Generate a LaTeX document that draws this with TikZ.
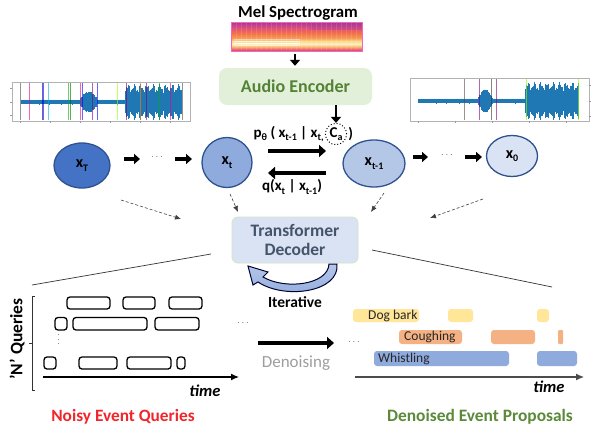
\documentclass[tikz,border=0pt]{standalone}
\usepackage{fontspec}
\setmainfont{Carlito}
\usetikzlibrary{arrows.meta,shapes.geometric}
\definecolor{ellc}{HTML}{2F528F}
\definecolor{cT}{HTML}{4472C4}
\definecolor{ct}{HTML}{8FAADC}
\definecolor{ctm}{HTML}{B4C7E7}
\definecolor{czero}{HTML}{DAE3F3}
\definecolor{encfill}{HTML}{E2F0D9}
\definecolor{enctext}{HTML}{548235}
\definecolor{decfill}{HTML}{DAE3F3}
\definecolor{decdraw}{HTML}{D3E4C6}
\definecolor{dectext}{HTML}{44546A}
\definecolor{wave}{HTML}{1F77B4}
\definecolor{yel}{HTML}{FFE699}
\definecolor{ora}{HTML}{F4B183}
\definecolor{blu}{HTML}{8FAADC}
\definecolor{noisyred}{HTML}{F0262B}
\definecolor{dengreen}{HTML}{5B8A3A}
\definecolor{sA}{HTML}{C83F8C}
\definecolor{sB}{HTML}{EE6A6A}
\definecolor{sC}{HTML}{F8B070}
\definecolor{sD}{HTML}{FDF0C0}
\definecolor{sE}{HTML}{FBD98C}
\definecolor{sF}{HTML}{F79A55}
\definecolor{sG}{HTML}{F2704A}
\definecolor{sH}{HTML}{E0507A}
\definecolor{sI}{HTML}{B8408F}
\definecolor{sJ}{HTML}{A0379A}
\pgfdeclareverticalshading{specshade}{100bp}{color(0bp)=(sA); color(25bp)=(sA); color(28.4bp)=(sB); color(31.9bp)=(sC); color(37bp)=(sD); color(42.2bp)=(sE); color(47.4bp)=(sF); color(56bp)=(sG); color(64.7bp)=(sH); color(71.5bp)=(sI); color(75bp)=(sJ); color(100bp)=(sJ)}
\newcommand{\sbs}[1]{\raisebox{-0.45ex}{\fontsize{10}{10}\selectfont #1}}
\tikzset{
  ell/.style={ellipse, draw=ellc, line width=1.3pt, inner sep=0pt, font=\bfseries\fontsize{16}{16}\selectfont},
  thickarr/.style={line width=3.4pt, -{Triangle[length=6pt,width=10pt]}},
  bigarr/.style={line width=4.6pt, -{Triangle[length=7pt,width=12pt]}},
  dasharr/.style={densely dashed, line width=0.6pt, draw=black!75, -{Latex[length=6pt,width=5pt]}},
  qbox/.style={draw, line width=1.3pt, rounded corners=3pt, fill=white},
  bar/.style={rounded corners=3pt},
  barlbl/.style={anchor=west, inner sep=0pt, font=\fontsize{13.5}{14}\selectfont, text=black!85},
  frame/.style={draw=black!30, line width=0.5pt},
  vl/.style={line width=0.6pt, opacity=0.6},
  dots/.style={font=\fontsize{10}{10}\selectfont, text=black!60, inner sep=0pt},
  plab/.style={font=\bfseries\fontsize{15}{15}\selectfont}
}
\begin{document}
\begin{tikzpicture}[x=1pt,y=-1pt]
\useasboundingbox (0,0) rectangle (603,442);
\fill[white] (0,0) rectangle (603,442);

% Mel spectrogram
\node[font=\bfseries\fontsize{16.8}{18}\selectfont] (meltitle) at (298,13) {Mel Spectrogram};
\shade[shading=specshade] (231,22) rectangle (362,51);
\fill[sJ, opacity=0.3] (310,22) rectangle (362,30);
\foreach \y/\o in {41/0.7,43/0.8,45/0.5,39/0.4}{\draw[white, opacity=\o, line width=0.7pt] (234,\y) -- (300,\y);}
\foreach \x in {236,241,...,356}{\draw[white, opacity=0.12, line width=0.6pt] (\x,23) -- (\x,50);}
\draw[magenta!60, line width=0.6pt] (231,22) rectangle (362,51);
\node[inner sep=0pt, minimum width=131pt, minimum height=29pt] (spec) at (296.5,36.5) {};

% Audio encoder
\node[fill=encfill, rounded corners=8pt, minimum width=153pt, minimum height=37pt, font=\bfseries\fontsize{18}{20}\selectfont, text=enctext] (enc) at (295.5,86.5) {Audio Encoder};
\draw[thickarr, line width=2.8pt, shorten <=3pt, shorten >=2pt] (spec.south -| 295,0) -- (enc.north -| 295,0);

% Waveforms
\begin{scope}
\draw[frame] (12,82) rectangle (190,121);
\foreach \x in {21,21.6,...,181}{\pgfmathsetmacro\A{1.6+0.9*abs(sin((\x-20)*71))}\draw[wave, line width=0.7pt] (\x,102-\A) -- (\x,102+\A);}
\foreach \x in {80,80.5,...,97}{\pgfmathsetmacro\A{2+7*sin((\x-80)/17*180)+1.5*abs(sin((\x-80)*73))}\draw[wave, line width=0.7pt] (\x,102-\A) -- (\x,102+\A);}
\foreach \x in {125,125.5,...,181}{\pgfmathsetmacro\A{13+3*sin((\x-120)*57)+2*sin((\x-120)*131)}\draw[wave, line width=0.7pt] (\x,102-\A) -- (\x,102+\A);}
\foreach \x/\c in {20/black!70, 29/magenta, 42/blue!60!black, 43.5/blue, 48/cyan, 68/green!70!black, 70.5/green!40!black, 80/magenta, 82/blue, 92/violet, 97/blue, 117/lime!80!green, 126/violet, 140/orange, 146/violet, 159/green!70!black, 170/magenta, 182/black!70}{\draw[vl, draw=\c] (\x,83) -- (\x,120);}
\foreach \x in {20,50,80,110,140,170}{\draw[black!40, line width=0.4pt] (\x,121) -- (\x,123);}
\foreach \y in {88,102,115}{\draw[black!40, line width=0.4pt] (12,\y) -- (10,\y);}
\end{scope}
\begin{scope}
\draw[frame] (410,78) rectangle (589,121);
\foreach \x in {418,418.6,...,578}{\pgfmathsetmacro\A{1.6+0.9*abs(sin((\x-410)*71))}\draw[wave, line width=0.7pt] (\x,101-\A) -- (\x,101+\A);}
\foreach \x in {478,478.5,...,492}{\pgfmathsetmacro\A{2+8*sin((\x-478)/14*180)+1.5*abs(sin((\x-478)*73))}\draw[wave, line width=0.7pt] (\x,101-\A) -- (\x,101+\A);}
\foreach \x in {525,525.5,...,578}{\pgfmathsetmacro\A{14+3*sin((\x-520)*57)+2*sin((\x-520)*131)}\draw[wave, line width=0.7pt] (\x,101-\A) -- (\x,101+\A);}
\foreach \x/\c in {464/black!70, 479/violet, 491/black!80, 496/violet, 526/lime!70!green, 578/lime!70!green}{\draw[vl, draw=\c] (\x,79) -- (\x,120);}
\foreach \x in {418,455,492,529,566}{\draw[black!40, line width=0.4pt] (\x,121) -- (\x,123);}
\foreach \y in {85,101,116}{\draw[black!40, line width=0.4pt] (589,\y) -- (591,\y);}
\end{scope}

% Diffusion chain
\node[ell, fill=cT, minimum width=56pt, minimum height=45pt] (xT) at (82,165.5) {x\sbs{T}};
\node[ell, fill=ct, minimum width=50pt, minimum height=50pt] (xt) at (227,162.5) {x\sbs{t}};
\node[ell, fill=ctm, minimum width=62pt, minimum height=47pt] (xtm) at (374,163.5) {x\sbs{t-1}};
\node[ell, fill=czero, minimum width=51pt, minimum height=41pt] (x0) at (512,156) {x\sbs{0}};
\node[dots] (d1) at (157,157) {$\cdots$};
\node[dots] (d2) at (447,155) {$\cdots$};
\coordinate (ar1a) at (124,159); \coordinate (ar1b) at (140,159);
\coordinate (ar2a) at (175,159); \coordinate (ar2b) at (192,159);
\coordinate (ar3a) at (413,157); \coordinate (ar3b) at (428,157);
\coordinate (ar4a) at (465,157); \coordinate (ar4b) at (482,157);
\draw[thickarr] (ar1a) -- (ar1b);
\draw[thickarr] (ar2a) -- (ar2b);
\draw[thickarr] (ar3a) -- (ar3b);
\draw[thickarr] (ar4a) -- (ar4b);

\coordinate (pa) at (268,151); \coordinate (pb) at (326,151);
\coordinate (qa) at (326,173); \coordinate (qb) at (268,173);
\draw[bigarr] (pa) -- (pb);
\draw[bigarr] (qa) -- (qb);

\node[draw, dotted, line width=1pt, circle, inner sep=1pt, minimum size=19pt, plab] (ca) at (336,134) {C\sbs{a}};
\node[anchor=east, inner sep=1pt, plab] (plbl) at (ca.west) {p\sbs{θ} ( x\sbs{t-1} | x\sbs{t,}};
\node[anchor=west, inner sep=1pt, plab] (prp) at (ca.east) {)};
\draw[thickarr, line width=2.8pt] (enc.south -| ca) -- (ca.north);
\node[plab] (qlbl) at (292,187) {q(x\sbs{t} | x\sbs{t-1})};

% Transformer decoder
\node[fill=decfill, draw=decdraw, line width=0.8pt, rounded corners=6pt, minimum width=126pt, minimum height=46pt, align=center, font=\bfseries\fontsize{17.5}{19}\selectfont, text=dectext] (dec) at (295,240) {Transformer\\Decoder};

\coordinate (a1) at (121,200); \coordinate (b1) at (181,219);
\coordinate (a2) at (230,194); \coordinate (b2) at (238,212);
\coordinate (a3) at (384,193); \coordinate (b3) at (371,212);
\coordinate (a4) at (483,199); \coordinate (b4) at (430,218);
\draw[dasharr] (a1) -- (b1);
\draw[dasharr] (a2) -- (b2);
\draw[dasharr] (a3) -- (b3);
\draw[dasharr] (a4) -- (b4);

% Iterative arrow
\shade[top color=ctm, bottom color=ct, draw=black!80!blue, line width=1pt]
  (337,264) .. controls (340,292) and (285,300) .. (258,282)
  -- (253,285) -- (248,266) -- (268,272) -- (263,277)
  .. controls (285,290) and (328,285) .. (329,264) -- cycle;
\node[font=\bfseries\fontsize{15.5}{16}\selectfont] (iter) at (295,302) {Iterative};

% Fan lines
\coordinate (fl1) at (211,254); \coordinate (fl2) at (32,285);
\coordinate (fr1) at (372,250); \coordinate (fr2) at (552,287);
\draw[black!80, line width=0.7pt] (fl1) -- (fl2);
\draw[black!80, line width=0.7pt] (fr1) -- (fr2);

% Noisy queries panel
\draw[black!80, line width=0.8pt] (35,296) -- (32,296) -- (32,390) -- (35,390);
\draw[black!80, line width=0.8pt] (32,343) -- (29,343);
\node[rotate=90, font=\bfseries\fontsize{17.5}{18}\selectfont] (nq) at (17,339) {'N' Queries};
\foreach \a/\b in {67/110,123/155,169/202}{\draw[qbox] (\a,297) rectangle (\b,309);}
\foreach \a/\b in {55/67,73/147,155/199}{\draw[qbox] (\a,317.5) rectangle (\b,330);}
\foreach \a/\b in {44/56,79/117,127/171,177/185}{\draw[qbox] (\a,357) rectangle (\b,369);}
\node[dots, rotate=90] (vd) at (59,340) {$\cdots$};
\coordinate (tl1) at (43,377); \coordinate (tl2) at (239,377);
\draw[line width=1.2pt, -{Latex[length=8pt,width=7pt]}] (tl1) -- (tl2);
\node[font=\bfseries\itshape\fontsize{16.5}{17}\selectfont] (time1) at (205,391) {time};
\node[font=\bfseries\fontsize{17.3}{19}\selectfont, text=noisyred] (nlbl) at (123,417) {Noisy Event Queries};
\node[dots] (d3) at (243,323) {$\cdots$};

% Denoising
\coordinate (da) at (258,343); \coordinate (db) at (334,343);
\draw[line width=4.6pt, -{Triangle[length=7pt,width=12pt]}] (da) -- (db);
\node[font=\fontsize{17}{18}\selectfont, text=black!38] (den) at (296,363) {Denoising};
\node[dots] (d4) at (354,342) {$\cdots$};

% Denoised proposals
\fill[bar, yel] (353,309) rectangle (419,322);
\fill[bar, yel] (448,309) rectangle (473,322);
\fill[bar, yel] (537,309) rectangle (549,322);
\node[barlbl] (dog) at (368,315.5) {Dog bark};
\fill[bar, ora] (399,330) rectangle (462,344);
\fill[bar, ora] (491,330) rectangle (535,344);
\fill[bar, ora, rounded corners=1pt] (558,330) rectangle (563,344);
\node[barlbl] (cough) at (404,337) {Coughing};
\fill[bar, blu] (374,351) rectangle (509,366);
\fill[bar, blu] (537,351) rectangle (577,366);
\node[barlbl] (whis) at (378,358.5) {Whistling};
\coordinate (tr1) at (355,377); \coordinate (tr2) at (584,377);
\draw[line width=1.1pt, draw=black!70, -{Latex[length=8pt,width=7pt]}] (tr1) -- (tr2);
\node[font=\bfseries\itshape\fontsize{16.5}{17}\selectfont] (time2) at (549,387) {time};
\node[font=\bfseries\fontsize{17.4}{19}\selectfont, text=dengreen] (dlbl) at (480,417) {Denoised Event Proposals};
\end{tikzpicture}
\end{document}
